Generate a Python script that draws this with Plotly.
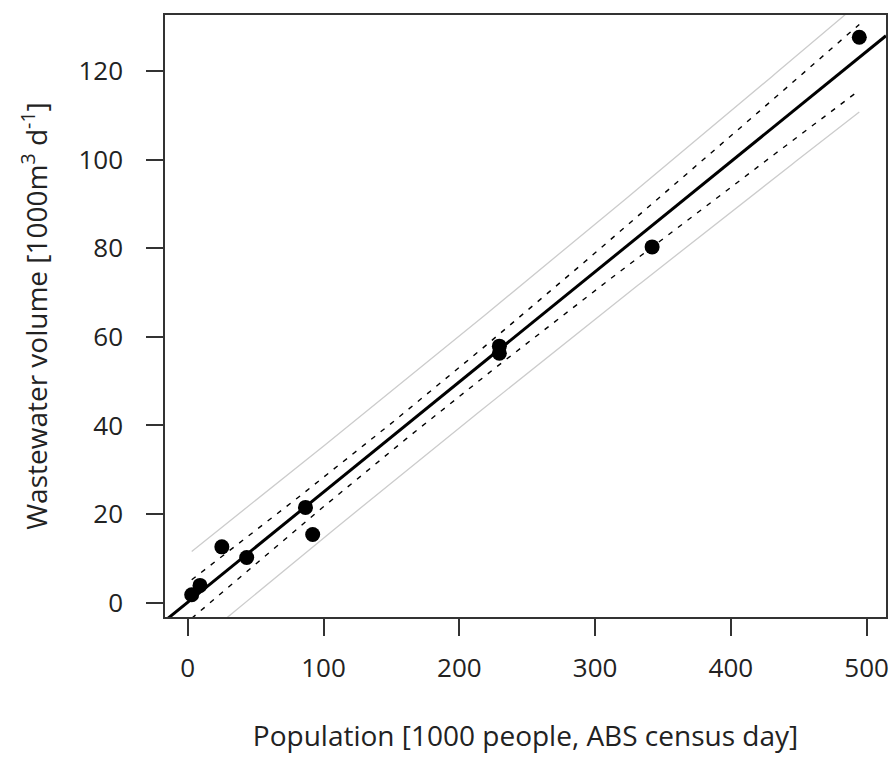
import numpy as np
import plotly.graph_objects as go

# Data
population = [2.9, 9.0, 25.1, 43.4, 86.7, 92.0, 229.5, 229.5, 342.0, 494.6]
wastewater = [1.8, 3.9, 12.6, 10.2, 21.5, 15.4, 57.9, 56.3, 80.3, 127.6]
x_ticks = [0, 100, 200, 300, 400, 500]
y_ticks = [0, 20, 40, 60, 80, 100, 120]
T_975_DF8 = 2.306004  # Student t quantile, 0.975, 8 df

x = np.array(population)
y = np.array(wastewater)
n = len(x)
xm = x.mean()
sxx = ((x - xm) ** 2).sum()
slope = ((x - xm) * (y - y.mean())).sum() / sxx
intercept = y.mean() - slope * xm
resid = y - (intercept + slope * x)
s = np.sqrt((resid ** 2).sum() / (n - 2))

def r_range(v):
    lo, hi = min(v), max(v)
    d = 0.04 * (hi - lo)
    return [lo - d, hi + d]

xr = r_range(population)
yr = r_range(wastewater)

xs = np.linspace(x.min(), x.max(), 200)
yh = intercept + slope * xs
se_c = s * np.sqrt(1 / n + (xs - xm) ** 2 / sxx)
se_p = s * np.sqrt(1 + 1 / n + (xs - xm) ** 2 / sxx)

fig = go.Figure()
gray = dict(color="#cccccc", width=1.3)
dash = dict(color="black", width=1.4, dash="5px,7px")
fig.add_trace(go.Scatter(x=xs, y=yh + T_975_DF8 * se_p, mode="lines", line=gray))
fig.add_trace(go.Scatter(x=xs, y=yh - T_975_DF8 * se_p, mode="lines", line=gray))
fig.add_trace(go.Scatter(x=xs, y=yh + T_975_DF8 * se_c, mode="lines", line=dash))
fig.add_trace(go.Scatter(x=xs, y=yh - T_975_DF8 * se_c, mode="lines", line=dash))
xl = np.array(xr)
fig.add_trace(go.Scatter(x=xl, y=intercept + slope * xl, mode="lines",
                         line=dict(color="black", width=3)))
fig.add_trace(go.Scatter(x=population, y=wastewater, mode="markers",
                         marker=dict(color="black", size=15, line=dict(width=0))))

axis_common = dict(
    showline=True, mirror=True, linecolor="#333333", linewidth=1.5,
    ticks="outside", ticklen=17, tickwidth=1.5, tickcolor="#333333",
    showgrid=False, zeroline=False,
    tickfont=dict(family="Open Sans", size=26, color="#222222"),
)
fig.update_layout(
    width=896, height=767,
    margin=dict(l=165, r=7, t=15, b=150),
    paper_bgcolor="white", plot_bgcolor="white",
    showlegend=False,
    font=dict(family="Open Sans", color="#222222"),
    xaxis=dict(range=xr, tickvals=x_ticks, ticklabelstandoff=10,
               title=dict(text="Population [1000 people, ABS census day]",
                          font=dict(size=28), standoff=42),
               **axis_common),
    yaxis=dict(range=yr, tickvals=y_ticks, ticklabelstandoff=18,
               title=dict(text="Wastewater volume [1000m<sup>3</sup> d<sup>-1</sup>]",
                          font=dict(size=28), standoff=23),
               **axis_common),
)
fig.write_html("out.html")
